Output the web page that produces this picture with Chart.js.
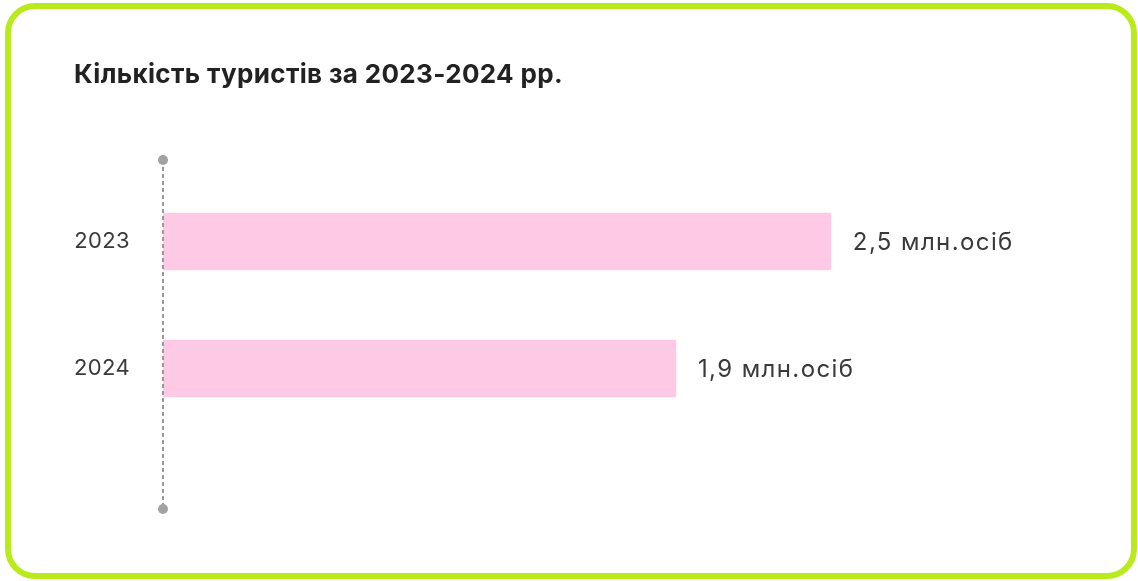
<!DOCTYPE html>
<html>
<head>
<meta charset="utf-8">
<script src="https://cdn.jsdelivr.net/npm/chart.js@4"></script>
<style>
  html, body { margin: 0; padding: 0; background: #ffffff; width: 1138px; height: 581px; overflow: hidden; }
  #card { position: absolute; left: 5px; top: 3px; width: 1120px; height: 564px; border: 6px solid #b9ea1b; border-radius: 30px; background: #fff; }
  #wrap { position: absolute; left: 0; top: 0; width: 1138px; height: 581px; }
</style>
</head>
<body>
<div id="card"></div>
<div id="wrap"><canvas id="c" width="1138" height="581"></canvas></div>
<script>
const categories = ['2023', '2024'];
const values = [2.5, 1.92];
const valueLabels = ['2,5 млн.осіб', '1,9 млн.осіб'];
const titleText = 'Кількість туристів за 2023-2024 рр.';

const FONT = 'Inter, "Open Sans", "Noto Sans", sans-serif';

const spacingPlugin = {
  id: 'spacing',
  beforeDraw(chart) {
    try { chart.ctx.letterSpacing = '0.35px'; } catch (e) {}
  }
};

const axisLinePlugin = {
  id: 'axisLine',
  afterDatasetsDraw(chart) {
    const { ctx, chartArea } = chart;
    const x = chartArea.left;
    const top = chartArea.top - 18;
    const bottom = chartArea.bottom + 77;
    ctx.save();
    ctx.strokeStyle = '#9a9a9a';
    ctx.lineWidth = 2;
    ctx.setLineDash([4, 3]);
    ctx.beginPath();
    ctx.moveTo(x, top);
    ctx.lineTo(x, bottom);
    ctx.stroke();
    ctx.setLineDash([]);
    ctx.fillStyle = '#a2a2a2';
    ctx.beginPath(); ctx.arc(x, top, 5, 0, Math.PI * 2); ctx.fill();
    ctx.beginPath(); ctx.arc(x, bottom, 5, 0, Math.PI * 2); ctx.fill();
    ctx.restore();
  }
};

const valueLabelPlugin = {
  id: 'valueLabels',
  afterDatasetsDraw(chart) {
    const { ctx } = chart;
    const meta = chart.getDatasetMeta(0);
    ctx.save();
    ctx.font = '400 24px ' + FONT;
    try { ctx.letterSpacing = '1.4px'; } catch (e) {}
    ctx.fillStyle = '#3a3a3a';
    ctx.textAlign = 'left';
    ctx.textBaseline = 'middle';
    meta.data.forEach((bar, i) => {
      ctx.fillText(valueLabels[i], bar.x + 22, bar.y + 1);
    });
    ctx.restore();
  }
};

new Chart(document.getElementById('c'), {
  type: 'bar',
  data: {
    labels: categories,
    datasets: [{
      data: values,
      backgroundColor: '#fec9e5',
      borderWidth: 0,
      barThickness: 57
    }]
  },
  options: {
    indexAxis: 'y',
    responsive: false,
    animation: false,
    devicePixelRatio: 1,
    layout: { padding: { left: 74, right: 40, top: 0, bottom: 149 } },
    plugins: {
      legend: { display: false },
      tooltip: { enabled: false },
      title: {
        display: true,
        text: titleText,
        align: 'start',
        color: '#222222',
        font: { family: FONT, size: 26, weight: '700', lineHeight: 1.2 },
        padding: { top: 59.4, bottom: 87.4 }
      }
    },
    scales: {
      x: { display: false, min: 0, max: 3.5 },
      y: {
        grid: { display: false, drawTicks: false },
        border: { display: false },
        ticks: { color: '#3a3a3a', padding: 33, font: { family: FONT, size: 22, weight: '400' } },
        afterFit(scale) { scale.width = 89; }
      }
    }
  },
  plugins: [spacingPlugin, axisLinePlugin, valueLabelPlugin]
});
</script>
</body>
</html>
